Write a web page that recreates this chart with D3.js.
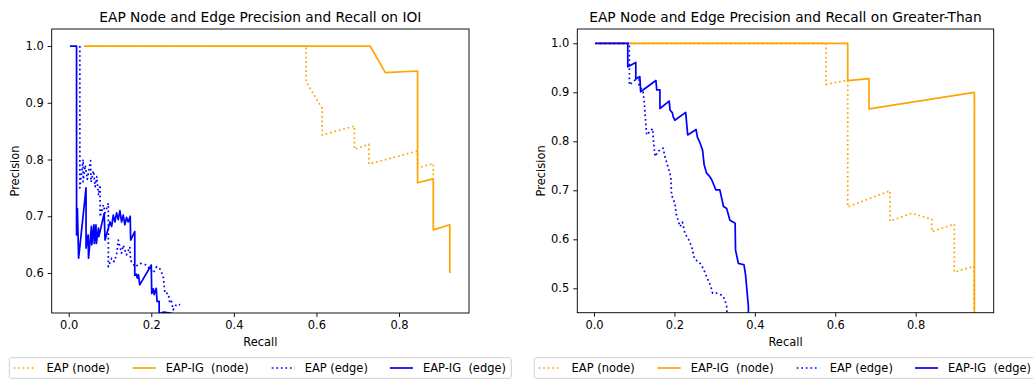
<!DOCTYPE html>
<html>
<head>
<meta charset="utf-8">
<script src="https://cdn.jsdelivr.net/npm/d3@7"></script>
<style>
  html, body { margin: 0; padding: 0; background: #fff; }
  svg { display: block; font-family: "DejaVu Sans", sans-serif; }
  text { white-space: pre; }
</style>
</head>
<body>
<svg id="chart" width="1033" height="380"></svg>
<script>
// Precision / recall curves: [recall, precision] points.

// IOI task
const ioiNodeEAP = [
  [0.038, 1.0], [0.575, 1.0], [0.575, 0.937], [0.614, 0.890], [0.614, 0.843],
  [0.692, 0.859], [0.692, 0.818], [0.727, 0.827], [0.727, 0.792],
  [0.845, 0.815], [0.845, 0.785], [0.883, 0.793], [0.883, 0.772]
];
const ioiNodeEAPIG = [
  [0.038, 1.0], [0.730, 1.0], [0.767, 0.953], [0.845, 0.956], [0.845, 0.759],
  [0.883, 0.766], [0.883, 0.676], [0.923, 0.685], [0.923, 0.600]
];
const ioiEdgeEAP = [
  [0.027, 1.0], [0.027, 0.750], [0.035, 0.800], [0.035, 0.761], [0.040, 0.790],
  [0.045, 0.765], [0.053, 0.798], [0.054, 0.760], [0.060, 0.780], [0.064, 0.752],
  [0.068, 0.770], [0.072, 0.737], [0.076, 0.755], [0.076, 0.699], [0.084, 0.720],
  [0.088, 0.706], [0.096, 0.723], [0.096, 0.611], [0.104, 0.626], [0.110, 0.620],
  [0.116, 0.632], [0.120, 0.658], [0.128, 0.635], [0.132, 0.649], [0.140, 0.632],
  [0.148, 0.646], [0.150, 0.622], [0.161, 0.611], [0.173, 0.617], [0.189, 0.614],
  [0.197, 0.606], [0.205, 0.600], [0.213, 0.611], [0.221, 0.607], [0.229, 0.594],
  [0.233, 0.564], [0.241, 0.564], [0.245, 0.547], [0.249, 0.550], [0.253, 0.535],
  [0.261, 0.545], [0.270, 0.544]
];
const ioiEdgeEAPIG = [
  [0.003, 1.0], [0.019, 1.0], [0.019, 0.667], [0.021, 0.714], [0.024, 0.626],
  [0.042, 0.750], [0.042, 0.644], [0.047, 0.667], [0.048, 0.626], [0.055, 0.682],
  [0.056, 0.650], [0.061, 0.685], [0.062, 0.652], [0.066, 0.685], [0.067, 0.652],
  [0.072, 0.679], [0.073, 0.664], [0.086, 0.705], [0.088, 0.658], [0.100, 0.690],
  [0.104, 0.682], [0.108, 0.702], [0.112, 0.690], [0.116, 0.706], [0.120, 0.694],
  [0.124, 0.710], [0.128, 0.690], [0.132, 0.702], [0.136, 0.685], [0.140, 0.698],
  [0.144, 0.690], [0.149, 0.700], [0.150, 0.658], [0.160, 0.673], [0.160, 0.596],
  [0.164, 0.598], [0.166, 0.591], [0.169, 0.597], [0.172, 0.579], [0.200, 0.614],
  [0.201, 0.564], [0.205, 0.572], [0.207, 0.562], [0.212, 0.573], [0.214, 0.550],
  [0.219, 0.550], [0.219, 0.528], [0.230, 0.531], [0.250, 0.529], [0.255, 0.520]
];

// Greater-Than task
const gtNodeEAP = [
  [0.010, 1.0], [0.577, 1.0], [0.577, 0.916], [0.631, 0.925], [0.631, 0.666],
  [0.736, 0.699], [0.736, 0.637], [0.790, 0.653], [0.840, 0.641], [0.840, 0.616],
  [0.896, 0.631], [0.896, 0.533], [0.945, 0.545], [0.945, 0.440]
];
const gtNodeEAPIG = [
  [0.010, 1.0], [0.631, 1.0], [0.631, 0.924], [0.684, 0.928], [0.684, 0.866],
  [0.946, 0.900], [0.946, 0.440]
];
const gtEdgeEAP = [
  [0.003, 1.0], [0.088, 1.0], [0.088, 0.915], [0.112, 0.932], [0.112, 0.915],
  [0.122, 0.901], [0.125, 0.880], [0.127, 0.857], [0.131, 0.813], [0.146, 0.826],
  [0.148, 0.800], [0.152, 0.769], [0.160, 0.780], [0.172, 0.786], [0.176, 0.770],
  [0.185, 0.745], [0.191, 0.728], [0.193, 0.690], [0.201, 0.673], [0.205, 0.650],
  [0.214, 0.626], [0.220, 0.635], [0.226, 0.612], [0.235, 0.600], [0.243, 0.585],
  [0.250, 0.560], [0.264, 0.551], [0.272, 0.540], [0.280, 0.524], [0.290, 0.505],
  [0.295, 0.490], [0.305, 0.490], [0.318, 0.486], [0.325, 0.478], [0.330, 0.462],
  [0.331, 0.440]
];
const gtEdgeEAPIG = [
  [0.003, 1.0], [0.084, 1.0], [0.084, 0.952], [0.104, 0.961], [0.104, 0.927],
  [0.114, 0.932], [0.116, 0.901], [0.154, 0.924], [0.156, 0.905], [0.164, 0.905],
  [0.164, 0.867], [0.187, 0.882], [0.189, 0.864], [0.195, 0.858], [0.197, 0.850],
  [0.201, 0.843], [0.228, 0.859], [0.233, 0.813], [0.254, 0.824], [0.257, 0.809],
  [0.264, 0.796], [0.270, 0.782], [0.274, 0.752], [0.280, 0.735], [0.288, 0.728],
  [0.293, 0.721], [0.303, 0.701], [0.313, 0.701], [0.322, 0.667], [0.330, 0.663],
  [0.338, 0.639], [0.351, 0.633], [0.352, 0.578], [0.359, 0.551], [0.373, 0.548],
  [0.377, 0.527], [0.381, 0.490], [0.384, 0.462], [0.384, 0.440]
];

const seriesNames = ["EAP (node)", "EAP-IG  (node)", "EAP (edge)", "EAP-IG  (edge)"];
const seriesColors = ["#FFA500", "#FFA500", "#0000FF", "#0000FF"];
const seriesDotted = [true, false, true, false];

const xTicks = [0.0, 0.2, 0.4, 0.6, 0.8];
const ioiYTicks = [0.6, 0.7, 0.8, 0.9, 1.0];
const gtYTicks = [0.5, 0.6, 0.7, 0.8, 0.9, 1.0];

// 1pt in output pixels
const PT = 1.146;
const LABEL_FS = 10 * PT;
const TITLE_FS = 12 * PT;
const LW = 1.5 * PT;
const DOTS = `${LW},${1.65 * LW}`;

const panels = [
  {
    id: "ioi",
    title: "EAP Node and Edge Precision and Recall on IOI",
    box: { left: 51.7, right: 469, top: 29, bottom: 313 },
    xDomain: [-0.0412, 0.9695],
    yDomain: [0.5295, 1.030],
    yTicks: ioiYTicks,
    series: [ioiNodeEAP, ioiNodeEAPIG, ioiEdgeEAP, ioiEdgeEAPIG],
    legend: { x: 9.3, width: 502 }
  },
  {
    id: "gt",
    title: "EAP Node and Edge Precision and Recall on Greater-Than",
    box: { left: 577.3, right: 993.7, top: 29, bottom: 312.7 },
    xDomain: [-0.0415, 0.994],
    yDomain: [0.4502, 1.0292],
    yTicks: gtYTicks,
    series: [gtNodeEAP, gtNodeEAPIG, gtEdgeEAP, gtEdgeEAPIG],
    legend: { x: 534.3, width: 502 }
  }
];

const svg = d3.select("#chart");
const fmt = d3.format(".1f");

panels.forEach(p => {
  const b = p.box;
  const x = d3.scaleLinear().domain(p.xDomain).range([b.left, b.right]);
  const y = d3.scaleLinear().domain(p.yDomain).range([b.bottom, b.top]);
  const g = svg.append("g");

  g.append("clipPath").attr("id", "clip-" + p.id)
    .append("rect")
    .attr("x", b.left).attr("y", b.top)
    .attr("width", b.right - b.left).attr("height", b.bottom - b.top);

  const line = d3.line().x(d => x(d[0])).y(d => y(d[1]));
  const plot = g.append("g").attr("clip-path", `url(#clip-${p.id})`);
  p.series.forEach((data, i) => {
    plot.append("path")
      .datum(data)
      .attr("d", line)
      .attr("fill", "none")
      .attr("stroke", seriesColors[i])
      .attr("stroke-width", LW)
      .attr("stroke-linejoin", "round")
      .attr("stroke-dasharray", seriesDotted[i] ? DOTS : null);
  });

  // axes
  const xAxis = d3.axisBottom(x).tickValues(xTicks).tickFormat(fmt)
    .tickSizeInner(3.5 * PT).tickSizeOuter(0).tickPadding(3.5 * PT);
  const yAxis = d3.axisLeft(y).tickValues(p.yTicks).tickFormat(fmt)
    .tickSizeInner(3.5 * PT).tickSizeOuter(0).tickPadding(3.5 * PT);

  const gx = g.append("g").attr("transform", `translate(0,${b.bottom})`).call(xAxis);
  const gy = g.append("g").attr("transform", `translate(${b.left},0)`).call(yAxis);
  [gx, gy].forEach(a => {
    a.select(".domain").remove();
    a.selectAll(".tick line").attr("stroke", "#000").attr("stroke-width", 0.8 * PT);
    a.selectAll(".tick text").attr("fill", "#000")
      .style("font-family", "DejaVu Sans").style("font-size", LABEL_FS + "px");
  });

  // frame
  g.append("rect")
    .attr("x", b.left).attr("y", b.top)
    .attr("width", b.right - b.left).attr("height", b.bottom - b.top)
    .attr("fill", "none").attr("stroke", "#000").attr("stroke-width", 0.8 * PT);

  // labels
  const cx = (b.left + b.right) / 2;
  g.append("text").attr("x", cx).attr("y", 22)
    .attr("text-anchor", "middle").style("font-size", TITLE_FS + "px").text(p.title);
  g.append("text").attr("x", cx).attr("y", 345.7)
    .attr("text-anchor", "middle").style("font-size", LABEL_FS + "px").text("Recall");
  g.append("text")
    .attr("transform", `translate(${b.left - 32.5},${(b.top + b.bottom) / 2}) rotate(-90)`)
    .attr("text-anchor", "middle").style("font-size", LABEL_FS + "px").text("Precision");

  // legend
  const L = p.legend;
  const lg = g.append("g").attr("transform", `translate(${L.x},357.7)`);
  lg.append("rect").attr("width", L.width).attr("height", 20.6)
    .attr("rx", 2).attr("fill", "#fff").attr("fill-opacity", 0.8)
    .attr("stroke", "#ccc").attr("stroke-width", 0.8 * PT);
  const entryX = [4.3, 123.4, 262.4, 380.7];
  seriesNames.forEach((name, i) => {
    const ex = entryX[i];
    lg.append("line")
      .attr("x1", ex).attr("x2", ex + 2 * LABEL_FS)
      .attr("y1", 10.3).attr("y2", 10.3)
      .attr("stroke", seriesColors[i]).attr("stroke-width", LW)
      .attr("stroke-dasharray", seriesDotted[i] ? DOTS : null);
    lg.append("text").attr("x", ex + 33).attr("y", 14.3)
      .style("font-size", LABEL_FS + "px").text(name);
  });
});
</script>
</body>
</html>
